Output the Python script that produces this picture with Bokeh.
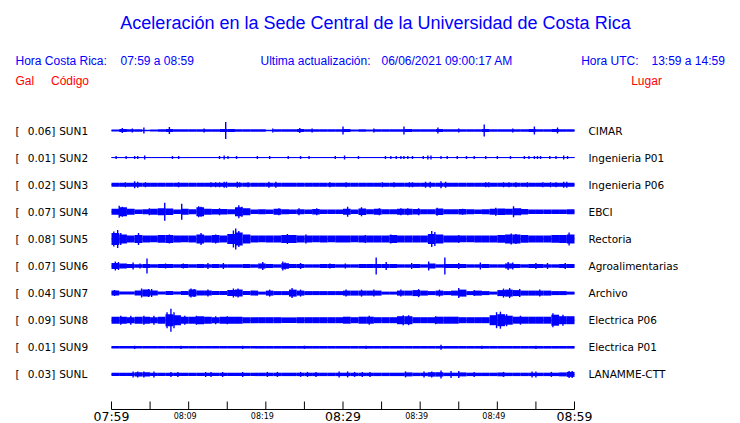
from bokeh.plotting import figure
from bokeh.models import Range1d, Label, ColumnDataSource
from bokeh.core.properties import value, field
from bokeh.embed import file_html
from bokeh.resources import INLINE

# ---------------- data ----------------
codes = ["SUN1", "SUN2", "SUN3", "SUN4", "SUN5", "SUN6", "SUN7", "SUN8", "SUN9", "SUNL"]
gal_max = ["0.06", "0.01", "0.02", "0.07", "0.08", "0.07", "0.04", "0.09", "0.01", "0.03"]
places = ["CIMAR", "Ingenieria P01", "Ingenieria P06", "EBCI", "Rectoria",
          "Agroalimentarias", "Archivo", "Electrica P06", "Electrica P01", "LANAMME-CTT"]

tick_minutes = [0, 5, 10, 15, 20, 25, 30, 35, 40, 45, 50, 55, 60]
label_minutes = [0, 10, 20, 30, 40, 50, 60]
label_texts = ["07:59", "08:09", "08:19", "08:29", "08:39", "08:49", "08:59"]
label_major = [True, False, False, True, False, False, True]

# per-minute envelope half-amplitudes (display units) for minutes 0..59
env_sun1 = [1.0, 1.4, 1.3, 1.3, 0.8, 1.0, 1.3, 1.4, 1.3, 1.3, 1.3, 1.3, 1.3, 1.3, 1.4, 1.5, 1.3, 1.3, 1.3, 1.3,
            0.7, 1.3, 1.3, 1.3, 1.4, 1.3, 1.3, 1.3, 1.3, 1.3, 1.5, 1.0, 1.3, 1.0, 1.3, 1.3, 1.3, 1.3, 1.5, 1.3,
            1.3, 1.3, 1.4, 1.3, 1.3, 1.3, 1.3, 1.3, 1.5, 1.3, 1.3, 1.3, 1.3, 1.3, 1.4, 1.3, 1.3, 1.4, 1.3, 1.3]
env_sun2 = [0.5] * 60
env_sun3 = [2.0] * 60
env_sun4 = [3.0, 4.5, 3.0, 2.3, 2.5, 3.0, 3.5, 3.2, 2.3, 3.0, 2.5, 4.5, 3.0, 2.8, 2.8, 2.5, 4.5, 3.5, 2.3, 2.5,
            2.3, 3.0, 2.5, 2.3, 2.5, 2.3, 2.8, 2.3, 2.3, 2.3, 3.0, 2.3, 3.2, 2.5, 3.0, 2.5, 2.5, 3.0, 3.0, 2.8,
            2.5, 2.5, 3.2, 2.5, 2.5, 2.8, 2.5, 2.3, 2.5, 3.0, 3.2, 3.0, 3.5, 2.8, 2.3, 2.3, 2.3, 2.3, 2.3, 2.5]
env_sun5 = [6.0, 4.5, 3.5, 4.0, 3.5, 3.3, 3.8, 4.0, 3.5, 3.3, 3.5, 4.5, 3.5, 3.8, 3.5, 5.0, 6.5, 4.5, 3.5, 3.3,
            3.5, 3.5, 4.0, 4.0, 3.5, 3.5, 3.3, 3.5, 3.3, 3.5, 3.5, 3.3, 3.5, 3.5, 3.5, 3.5, 4.0, 3.5, 3.5, 3.5,
            3.5, 5.0, 4.5, 3.5, 3.5, 3.3, 3.3, 3.5, 3.5, 3.5, 3.8, 4.5, 4.5, 3.8, 3.5, 3.5, 3.5, 3.8, 4.0, 4.5]
env_sun6 = [3.0, 2.5, 2.0, 1.7, 2.0, 1.7, 2.0, 2.0, 1.7, 2.0, 1.7, 2.0, 1.7, 2.0, 1.7, 1.7, 1.7, 2.0, 1.7, 2.5,
            2.0, 1.7, 2.8, 2.0, 2.0, 1.7, 1.7, 2.0, 2.0, 1.7, 1.7, 1.7, 2.0, 2.0, 2.0, 2.0, 2.0, 1.7, 1.7, 2.0,
            1.7, 2.5, 1.7, 2.0, 2.0, 2.0, 1.7, 1.7, 2.0, 1.7, 1.7, 2.5, 2.0, 1.7, 2.0, 2.0, 1.7, 1.7, 2.0, 2.0]
env_sun7 = [2.5, 1.5, 1.5, 2.5, 3.5, 2.5, 1.5, 2.0, 1.5, 2.0, 3.5, 2.5, 2.5, 2.0, 2.0, 3.0, 3.5, 2.0, 2.5, 1.5,
            2.5, 2.0, 2.0, 3.5, 2.5, 2.0, 2.0, 2.0, 2.0, 2.0, 2.5, 2.5, 2.5, 2.5, 2.5, 1.5, 1.5, 2.5, 2.5, 3.0,
            2.5, 2.0, 2.5, 2.0, 2.5, 3.5, 2.0, 2.5, 2.0, 1.5, 3.0, 3.5, 3.0, 2.5, 2.5, 2.5, 2.5, 2.0, 2.0, 1.5]
env_sun8 = [3.5, 3.5, 3.0, 3.5, 3.5, 3.0, 3.5, 6.0, 5.0, 3.5, 3.5, 4.0, 3.5, 3.0, 3.5, 3.5, 3.5, 3.0, 3.0, 3.0,
            3.0, 3.0, 2.8, 2.8, 3.0, 3.0, 3.0, 3.0, 3.0, 3.0, 3.5, 3.0, 3.5, 3.5, 3.0, 3.0, 3.0, 4.0, 4.0, 3.0,
            3.0, 3.0, 3.5, 3.5, 3.5, 3.0, 3.0, 3.0, 3.0, 5.0, 6.0, 4.5, 3.5, 3.5, 3.5, 3.5, 3.5, 5.5, 4.0, 4.0]
env_sun9 = [1.3] * 60
env_sunl = [1.7, 1.7, 1.7, 2.2, 2.2, 1.7, 1.7, 1.7, 1.7, 1.7, 1.7, 1.7, 1.7, 1.7, 1.7, 1.7, 1.7, 1.7, 1.7, 1.7,
            1.7, 1.7, 1.7, 1.7, 1.7, 1.7, 1.7, 1.7, 1.7, 1.7, 1.7, 1.7, 1.7, 1.7, 1.7, 1.7, 1.7, 1.7, 2.0, 1.7,
            1.7, 2.2, 2.2, 1.7, 1.7, 2.0, 1.7, 1.7, 1.7, 1.7, 1.9, 1.7, 1.7, 1.7, 1.7, 1.7, 1.7, 1.7, 2.0, 2.5]

# spikes: minute and half-amplitude
spk_t_sun1 = [1.4, 2.7, 4.2, 7.5, 12.0, 14.8, 20.9, 24.4, 26.0, 30.0, 34.0, 37.9, 42.3, 45.0, 48.3, 52.0, 54.8, 57.8]
spk_a_sun1 = [2.5, 2.0, 3.0, 3.5, 2.0, 8.5, 2.0, 2.5, 2.0, 4.0, 2.0, 4.0, 3.0, 2.0, 6.0, 2.0, 4.0, 3.0]
spk_t_sun2 = [0.6, 1.9, 3.0, 3.4, 4.3, 7.9, 8.7, 14.0, 14.6, 15.1, 16.2, 18.9, 20.5, 22.9, 24.5, 25.6, 29.0,
              30.2, 32.0, 35.5, 36.2, 36.9, 37.5, 37.9, 38.4, 39.0, 40.4, 41.0, 41.4, 42.7, 43.5, 44.8, 46.0,
              47.0, 48.5, 50.0, 51.7, 53.5, 54.1, 54.8, 55.2, 55.6, 56.8, 57.6, 58.6, 59.1]
spk_a_sun2 = [1.5, 1.5, 1.5, 1.5, 2.0, 1.5, 1.5, 1.5, 2.0, 1.5, 1.5, 1.5, 1.5, 1.5, 1.5, 1.5, 1.5,
              2.0, 1.5, 1.5, 1.5, 1.5, 1.5, 1.5, 1.5, 1.5, 1.5, 2.0, 2.0, 1.5, 1.5, 1.5, 1.5,
              1.5, 1.5, 1.5, 1.5, 1.5, 1.5, 1.5, 1.5, 1.5, 1.5, 1.5, 2.0, 1.5]
spk_t_sun3 = [1.8, 3.0, 3.4, 4.4, 8.7, 12.9, 13.5, 14.0, 14.6, 14.9, 16.3, 16.6, 17.7, 20.4, 21.3, 28.3, 30.4,
              35.1, 36.6, 38.6, 39.0, 40.7, 41.3, 42.7, 43.3, 48.5, 48.9, 50.8, 51.5, 52.4, 53.9, 55.9, 56.9,
              57.6, 58.6, 59.0]
spk_a_sun3 = [2.5, 3.5, 3.0, 2.5, 2.5, 2.5, 2.5, 2.5, 3.0, 3.0, 3.0, 2.5, 2.5, 3.0, 3.0, 2.5, 2.5,
              2.5, 2.5, 2.5, 2.5, 3.0, 3.0, 3.5, 3.0, 2.5, 2.5, 2.5, 2.5, 2.5, 2.5, 2.5, 2.5,
              2.5, 3.0, 3.0]
spk_t_sun4 = [1.0, 1.4, 4.9, 6.9, 9.1, 11.3, 11.6, 14.0, 16.5, 16.9, 21.7, 24.3, 26.6, 30.6, 32.4, 34.7,
              37.5, 38.4, 39.8, 42.2, 45.5, 49.8, 52.1, 53.0]
spk_a_sun4 = [6.0, 5.0, 3.5, 9.0, 8.0, 5.5, 5.0, 3.5, 6.5, 5.0, 3.5, 3.5, 3.5, 5.0, 4.5, 3.5,
              3.5, 3.5, 3.5, 4.0, 3.0, 4.0, 5.5, 3.5]
spk_t_sun5 = [0.3, 0.8, 1.2, 3.5, 7.5, 11.6, 13.5, 15.8, 16.1, 16.5, 22.8, 25.2, 32.9, 36.2, 41.5, 41.9,
              45.0, 51.8, 52.4, 59.3]
spk_a_sun5 = [7.5, 9.0, 6.0, 6.0, 4.5, 6.0, 4.5, 8.5, 10.5, 8.0, 5.0, 4.5, 4.0, 4.5, 8.0, 7.0,
              4.0, 5.5, 5.0, 6.5]
spk_t_sun6 = [0.5, 0.9, 2.8, 3.7, 4.6, 7.0, 9.3, 12.5, 14.5, 19.6, 22.2, 22.5, 24.5, 28.3, 30.3, 34.3,
              35.6, 38.9, 41.1, 43.2, 45.0, 47.8, 51.4, 52.0, 55.0, 56.5, 58.8]
spk_a_sun6 = [4.5, 4.0, 3.5, 2.5, 7.5, 2.5, 2.5, 3.0, 3.0, 4.0, 4.5, 3.5, 3.0, 2.5, 2.5, 8.5,
              4.0, 3.0, 4.5, 8.5, 3.0, 3.5, 4.0, 3.5, 3.0, 3.0, 3.0]
spk_t_sun7 = [0.4, 3.9, 4.8, 5.2, 10.3, 10.7, 12.5, 15.8, 16.4, 20.5, 23.4, 24.5, 30.4, 32.4, 34.0, 37.5,
              39.8, 42.5, 45.0, 47.0, 50.8, 51.6, 52.9, 55.5]
spk_a_sun7 = [3.0, 4.5, 4.0, 4.0, 4.5, 4.0, 3.5, 4.5, 4.5, 3.5, 5.0, 3.5, 3.5, 3.5, 3.5, 3.5,
              4.0, 3.5, 5.0, 3.0, 4.5, 5.0, 4.0, 3.5]
spk_t_sun8 = [1.2, 2.5, 4.2, 5.5, 7.2, 7.7, 8.1, 9.5, 11.0, 13.5, 15.0, 33.4, 37.8, 38.5, 42.0, 49.9,
              50.4, 51.2, 53.0, 57.2, 58.5]
spk_a_sun8 = [4.5, 4.5, 4.5, 4.5, 8.0, 11.5, 8.0, 4.5, 4.5, 4.0, 4.0, 4.5, 5.0, 5.0, 4.0, 8.0,
              8.5, 6.0, 4.5, 7.0, 5.5]
spk_t_sun9 = [3.0, 9.0, 17.0, 25.0, 33.0, 42.7, 48.0, 55.0]
spk_a_sun9 = [1.6, 1.6, 1.6, 1.6, 1.6, 2.5, 1.6, 1.6]
spk_t_sunl = [2.8, 3.4, 4.2, 5.5, 7.7, 8.6, 12.2, 12.9, 14.4, 17.0, 20.2, 21.5, 24.5, 25.4, 26.5, 29.5,
              30.6, 31.5, 32.5, 33.5, 38.1, 40.5, 41.5, 42.7, 44.0, 45.0, 47.0, 50.8, 54.5, 55.0, 57.0,
              59.3, 59.7]
spk_a_sunl = [3.0, 3.0, 3.0, 3.0, 2.5, 2.5, 2.5, 2.5, 2.5, 2.5, 2.5, 2.5, 2.5, 2.5, 2.5, 3.0,
              3.0, 2.5, 2.5, 2.5, 3.0, 3.0, 3.0, 4.0, 3.5, 3.5, 2.5, 2.5, 3.0, 3.0, 2.5,
              3.5, 3.5]

envelopes = [env_sun1, env_sun2, env_sun3, env_sun4, env_sun5, env_sun6, env_sun7, env_sun8, env_sun9, env_sunl]
spike_times = [spk_t_sun1, spk_t_sun2, spk_t_sun3, spk_t_sun4, spk_t_sun5, spk_t_sun6, spk_t_sun7,
               spk_t_sun8, spk_t_sun9, spk_t_sunl]
spike_amps = [spk_a_sun1, spk_a_sun2, spk_a_sun3, spk_a_sun4, spk_a_sun5, spk_a_sun6, spk_a_sun7,
              spk_a_sun8, spk_a_sun9, spk_a_sunl]

# ---------------- layout ----------------
W, H = 740, 423
ORIGIN = 0                # screen offset of the figure
PXM = 463 / 60.0          # pixels per minute
T0_SCREEN = 111.0         # screen x of the first minute
BLUE = "#0000ff"
RED = "#ff0000"


def sy(screen_y):
    return (H + ORIGIN) - screen_y


def sx(screen_x):
    return screen_x - ORIGIN


x_start = (ORIGIN - T0_SCREEN) / PXM
x_end = (ORIGIN + W - T0_SCREEN) / PXM

p = figure(width=W, height=H, output_backend="svg", toolbar_location=None,
           x_range=Range1d(x_start, x_end), y_range=Range1d(0, H),
           x_axis_location=None, y_axis_location=None, min_border=0)
p.grid.visible = False
p.outline_line_color = None
p.background_fill_color = "white"
p.extra_x_ranges = {"px": Range1d(0, W)}

baselines = [sy(130 + 27.1 * i) for i in range(len(codes))]

# traces
ql, qr, qb, qt = [], [], [], []
s_x, s_y0, s_y1 = [], [], []
for i, base in enumerate(baselines):
    for m, a in enumerate(envelopes[i]):
        ql.append(m)
        qr.append(m + 1)
        qb.append(base - a)
        qt.append(base + a)
    for t, a in zip(spike_times[i], spike_amps[i]):
        s_x.append(t)
        s_y0.append(base - a)
        s_y1.append(base + a)

p.segment(x0=[0] * len(baselines), x1=[60] * len(baselines), y0=baselines, y1=baselines,
          line_color=BLUE, line_width=1)
p.quad(left=ql, right=qr, bottom=qb, top=qt, fill_color=BLUE, line_color=None)
p.segment(x0=s_x, x1=s_x, y0=s_y0, y1=s_y1, line_color=BLUE, line_width=1.4)

# station labels
lab_src = ColumnDataSource(dict(y=baselines, gal=[g + "]" for g in gal_max], code=codes, place=places,
                                br=["["] * len(codes)))
common = dict(text_font=value("DejaVu Sans"), text_font_size="10.5px", text_color="black",
              text_baseline="middle", text_align="left", source=lab_src, x_range_name="px")
p.text(x=sx(15), y="y", text="br", **common)
p.text(x=sx(27.3), y="y", text="gal", **common)
p.text(x=sx(58.7), y="y", text="code", **common)
p.text(x=sx(588), y="y", text="place", **common)

# time axis
ax_y = sy(409)
p.segment(x0=[0], x1=[60], y0=[ax_y], y1=[ax_y], line_color="black", line_width=1)
p.segment(x0=tick_minutes, x1=tick_minutes, y0=[ax_y] * len(tick_minutes),
          y1=[ax_y + 8] * len(tick_minutes), line_color="black", line_width=1)
tick_src = ColumnDataSource(dict(
    x=label_minutes, y=[sy(415.5)] * len(label_minutes), text=label_texts,
    size=["12.5px" if mj else "8px" for mj in label_major],
    off=[0 if mj else -3.5 for mj in label_major]))
p.text(x="x", y="y", text="text", source=tick_src, text_font=value("DejaVu Sans"),
       text_font_size=field("size"), x_offset="off", text_align="center",
       text_baseline="middle", text_color="black")

# header texts
header = [
    ("Aceleración en la Sede Central de la Universidad de Costa Rica", 375, 22, "18px", BLUE, "center"),
    ("Hora Costa Rica:", 15, 60, "12px", BLUE, "left"),
    ("07:59 a 08:59", 120, 60, "12px", BLUE, "left"),
    ("Ultima actualización:", 260, 60, "12px", BLUE, "left"),
    ("06/06/2021 09:00:17 AM", 381, 60, "12px", BLUE, "left"),
    ("Hora UTC:", 580.7, 60, "12px", BLUE, "left"),
    ("13:59 a 14:59", 651, 60, "12px", BLUE, "left"),
    ("Gal", 15, 80, "12px", RED, "left"),
    ("Código", 50.5, 80, "12px", RED, "left"),
    ("Lugar", 630.7, 80, "12px", RED, "left"),
]
for txt, x, y, fs, col, al in header:
    p.add_layout(Label(x=sx(x), y=sy(y), x_range_name="px", text=txt, text_font="Liberation Sans",
                       text_font_size=fs, text_color=col, text_align=al, text_baseline="middle"))

open("out.html", "w").write(file_html(p, INLINE))
